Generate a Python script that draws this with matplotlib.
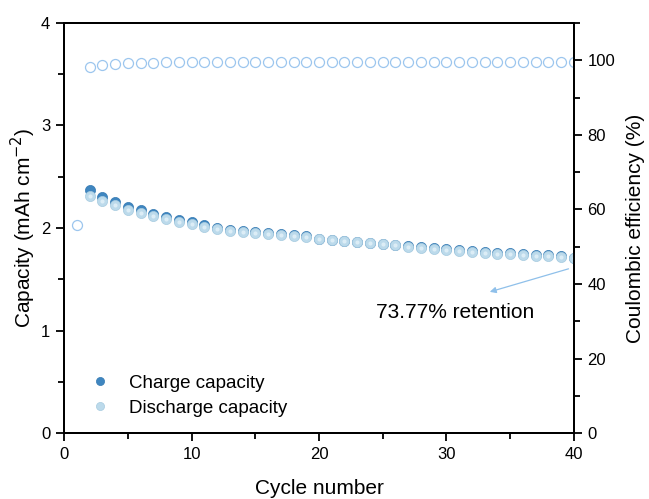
import numpy as np
import matplotlib.pyplot as plt
from matplotlib.ticker import MultipleLocator

plt.rcParams['font.family'] = ['Liberation Sans', 'DejaVu Sans']

cycles = np.arange(2, 41)
discharge = [2.31, 2.26, 2.22, 2.18, 2.15, 2.12, 2.09, 2.06, 2.04, 2.01,
             1.99, 1.97, 1.96, 1.95, 1.94, 1.93, 1.92, 1.91, 1.89, 1.88,
             1.87, 1.86, 1.85, 1.84, 1.83, 1.82, 1.81, 1.80, 1.79, 1.78,
             1.77, 1.76, 1.75, 1.745, 1.74, 1.73, 1.725, 1.715, 1.704]
charge = [2.37, 2.30, 2.25, 2.21, 2.175, 2.14, 2.11, 2.08, 2.055, 2.025,
          2.00, 1.98, 1.968, 1.958, 1.948, 1.938, 1.928, 1.918, 1.898, 1.888,
          1.878, 1.868, 1.858, 1.848, 1.838, 1.828, 1.818, 1.808, 1.798, 1.788,
          1.778, 1.768, 1.758, 1.753, 1.748, 1.738, 1.733, 1.723, 1.712]
ce_cycles = np.arange(1, 41)
ce = [55.9, 98.1, 98.6, 99.0, 99.2, 99.3, 99.3, 99.4, 99.4, 99.4,
      99.4, 99.5, 99.5, 99.5, 99.5, 99.5, 99.5, 99.5, 99.5, 99.5,
      99.5, 99.5, 99.5, 99.5, 99.5, 99.5, 99.5, 99.5, 99.5, 99.5,
      99.5, 99.5, 99.5, 99.5, 99.5, 99.5, 99.5, 99.5, 99.5, 99.5]

fig, ax = plt.subplots(figsize=(6.49, 4.99), dpi=100)
fig.subplots_adjust(left=0.099, right=0.884, top=0.954, bottom=0.132)
ax2 = ax.twinx()

ax.plot(cycles, charge, 'o', ms=7.3, color='#3f86c0', mec='#3479b2', mew=0.5,
        label='Charge capacity', zorder=3)
ax.plot(cycles, discharge, 'o', ms=7.3, color='#bcdaeb', mec='#a6cbe0', mew=0.5,
        label='Discharge capacity', zorder=4)
# small highlight to give the balls a glossy look
ax.plot(cycles, discharge, 'o', ms=3, color='#dcedf6', mew=0, zorder=5)
ax2.plot(ce_cycles, ce, 'o', ms=7.2, mfc='none', mec='#9cc6ee', mew=0.9)

ax.set_xlim(0, 40)
ax.set_ylim(0, 4)
ax2.set_ylim(0, 110)

ax.xaxis.set_major_locator(MultipleLocator(10))
ax.xaxis.set_minor_locator(MultipleLocator(5))
ax.yaxis.set_major_locator(MultipleLocator(1))
ax.yaxis.set_minor_locator(MultipleLocator(0.5))
ax2.yaxis.set_major_locator(MultipleLocator(20))
ax2.yaxis.set_minor_locator(MultipleLocator(10))

for a in (ax, ax2):
    a.tick_params(which='major', direction='out', length=6, width=1.3,
                  labelsize=12, pad=4)
    a.tick_params(which='minor', direction='out', length=4, width=1.3)
    for s in a.spines.values():
        s.set_linewidth(1.4)

ax.set_xlabel('Cycle number', fontsize=15, labelpad=12)
ax.set_ylabel('Capacity (mAh cm$^{-2}$)', fontsize=15, labelpad=2)
ax2.set_ylabel('Coulombic efficiency (%)', fontsize=15, labelpad=8)

ax.annotate('', xy=(33.2, 1.37), xytext=(39.8, 1.61),
            arrowprops=dict(arrowstyle='-|>', color='#8fc0ea', lw=0.9,
                            mutation_scale=9))
ax.text(30.67, 1.18, '73.77% retention', fontsize=15, ha='center', va='center')

ax.legend(loc='center left', bbox_to_anchor=(0.049, 0.091), frameon=False,
          fontsize=13.5, handlelength=1.2, handletextpad=0.9,
          labelspacing=0.4, borderpad=0, borderaxespad=0, markerscale=0.8)

fig.savefig('out.png', dpi=100)
